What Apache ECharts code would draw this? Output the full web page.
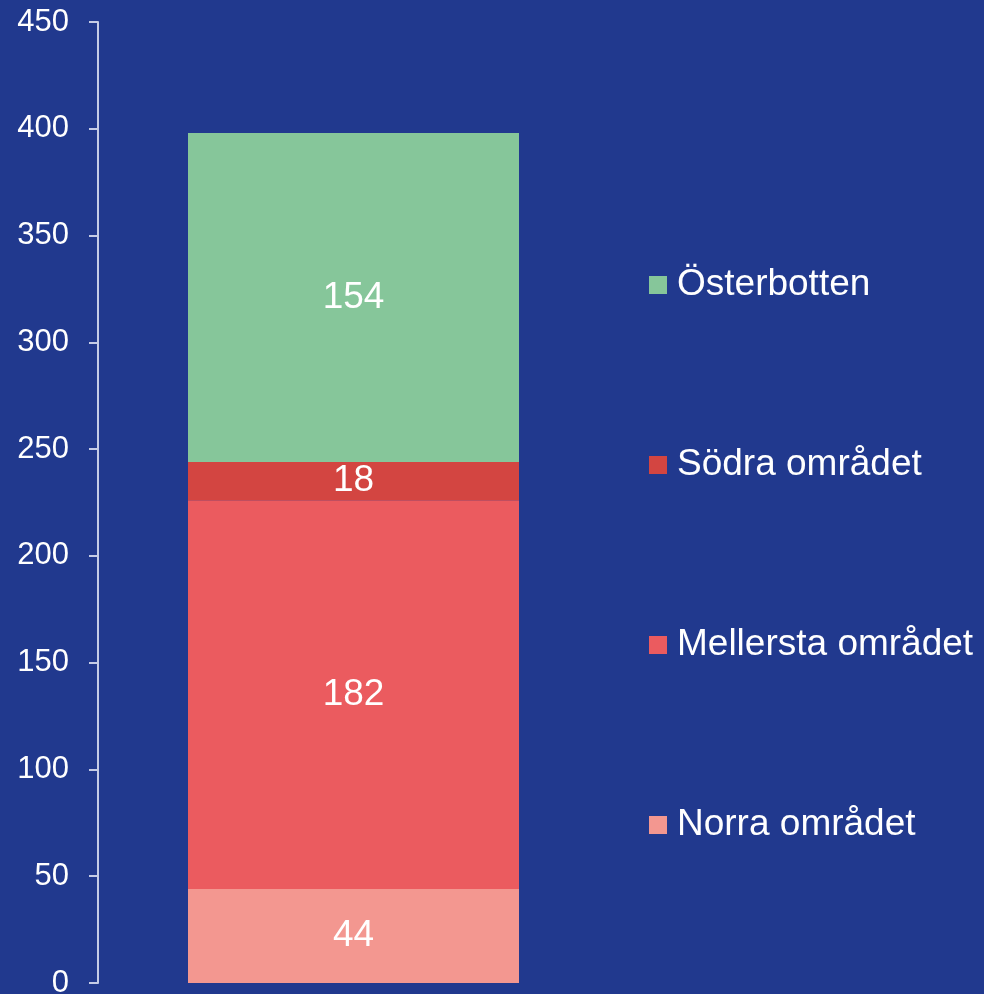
<!DOCTYPE html>
<html>
<head>
<meta charset="utf-8">
<script src="https://cdn.jsdelivr.net/npm/echarts@6/dist/echarts.min.js"></script>
<style>
  html, body { margin: 0; padding: 0; background: #21398E; overflow: hidden; }
  #main { width: 984px; height: 994px; }
</style>
</head>
<body>
<div id="main"></div>
<script>
var categories = [''];
var seriesNames = ['Norra området', 'Mellersta området', 'Södra området', 'Österbotten'];
var seriesColors = ['#F39790', '#EB5B5F', '#D34541', '#86C69A'];
var norra = [44];
var mellersta = [182];
var sodra = [18];
var osterbotten = [154];
var seriesValues = [norra, mellersta, sodra, osterbotten];

var myChart = echarts.init(document.getElementById('main'));
var font = 'Liberation Sans, Arial, sans-serif';

var series = seriesNames.map(function (name, i) {
    return {
        name: name,
        type: 'bar',
        stack: 'total',
        barWidth: 331,
        data: seriesValues[i],
        itemStyle: { color: seriesColors[i] },
        label: {
            show: true,
            position: 'inside',
            color: '#ffffff',
            fontSize: 37,
            fontFamily: font
        }
    };
});

var option = {
    backgroundColor: '#21398E',
    animation: false,
    grid: { left: 98, right: 375, top: 22, bottom: 11, outerBoundsMode: 'none', containLabel: false },
    legend: {
        orient: 'vertical',
        left: 644,
        top: 260,
        itemWidth: 18,
        itemHeight: 18,
        itemGap: 140,
        icon: 'rect',
        data: seriesNames.slice().reverse(),
        textStyle: { color: '#ffffff', fontSize: 37, fontFamily: font, lineHeight: 40, padding: [0, 0, 0, 5] }
    },
    xAxis: {
        type: 'category',
        data: categories,
        show: false
    },
    yAxis: {
        type: 'value',
        min: 0,
        max: 450,
        interval: 50,
        splitLine: { show: false },
        axisLine: { show: true, lineStyle: { color: '#C5CCE6', width: 2 } },
        axisTick: { show: true, length: 9, lineStyle: { color: '#C5CCE6', width: 2 } },
        axisLabel: { color: '#ffffff', fontSize: 31, fontFamily: font, margin: 29 }
    },
    series: series
};

if (option && typeof option === "object") {
    myChart.setOption(option, true);
}
</script>
</body>
</html>
